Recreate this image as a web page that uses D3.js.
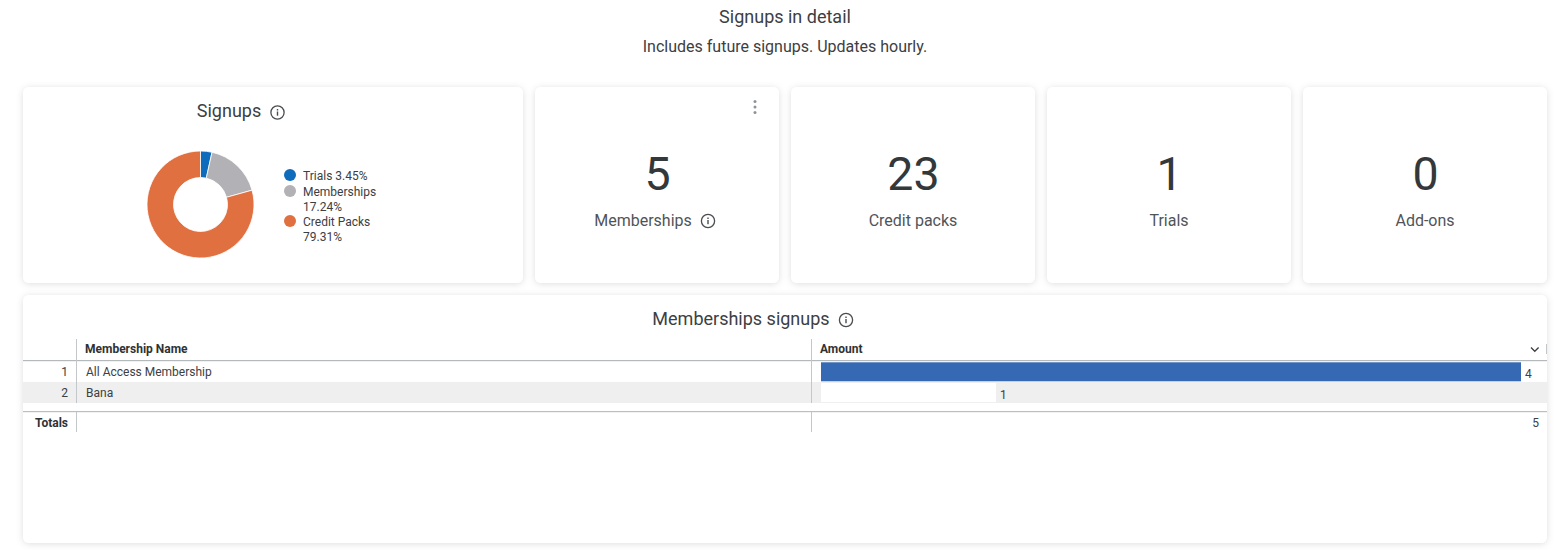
<!DOCTYPE html>
<html><head><meta charset="utf-8">
<script src="https://cdn.jsdelivr.net/npm/d3@7"></script>
<style>
html,body{margin:0;padding:0;background:#fff;overflow:hidden}
svg{display:block}
text{font-family:Roboto,sans-serif;fill:#3c4043}
</style></head><body><div id="c"></div>
<script>
const donutLabels = ["Trials","Memberships","Credit Packs"];
const donutValues = [1,5,23];
const donutPct = ["3.45%","17.24%","79.31%"];
const donutColors = ["#0f6cbd","#b1b1b6","#e07040"];
const kpiValues = ["5","23","1","0"];
const kpiLabels = ["Memberships","Credit packs","Trials","Add-ons"];
const rowNames = ["All Access Membership","Bana"];
const rowAmounts = [4,1];
const totalAmount = 5;

const svg = d3.select("#c").append("svg").attr("width",1554).attr("height",550);
const defs = svg.append("defs");
const f = defs.append("filter").attr("id","sh").attr("x","-5%").attr("y","-5%").attr("width","110%").attr("height","115%");
f.append("feDropShadow").attr("dx",0).attr("dy",1).attr("stdDeviation",3.5).attr("flood-color","#000").attr("flood-opacity",0.13);

function txt(x,y,s,size,anchor,weight,fill){
  return svg.append("text").attr("x",x).attr("y",y).text(s).attr("font-size",size)
    .attr("text-anchor",anchor||"start").attr("font-weight",weight||400).attr("fill",fill||"#3c4043").style("fill",fill||"#3c4043");
}
function card(x,y,w,h){
  svg.append("rect").attr("x",x).attr("y",y).attr("width",w).attr("height",h).attr("rx",6).attr("fill","#fff").attr("filter","url(#sh)");
}
function info(cx,cy){
  const g=svg.append("g").attr("transform",`translate(${cx},${cy})`);
  g.append("circle").attr("r",6.6).attr("fill","none").attr("stroke","#4a4d50").attr("stroke-width",1.3);
  g.append("rect").attr("x",-0.7).attr("y",-1).attr("width",1.4).attr("height",4.2).attr("fill","#4a4d50");
  g.append("rect").attr("x",-0.7).attr("y",-3.5).attr("width",1.4).attr("height",1.5).attr("fill","#4a4d50");
}

txt(785,22.5,"Signups in detail",18,"middle");
txt(785,52,"Includes future signups. Updates hourly.",16,"middle");

// cards
card(23,87,500,196);
const kpiX=[535,791,1047,1303];
kpiX.forEach(x=>card(x,87,244,196));
card(23,295,1524,248);

// donut
txt(229,117,"Signups",18,"middle");
info(277.5,112.5);
const pie=d3.pie().sort(null)(donutValues);
const arc=d3.arc().innerRadius(27).outerRadius(53.5);
const dg=svg.append("g").attr("transform","translate(200.5,204.5)");
dg.selectAll("path").data(pie).join("path").attr("d",arc).attr("fill",(d,i)=>donutColors[i]).attr("stroke","#fff").attr("stroke-width",0.8);

// legend
const legY=[175,191,221];
donutLabels.forEach((l,i)=>{
  svg.append("circle").attr("cx",290).attr("cy",legY[i]).attr("r",6).attr("fill",donutColors[i]);
  if(i===0){ txt(303,179.5,l+" "+donutPct[i],12); }
  else { txt(303,legY[i]+4.5,l,12); txt(303,legY[i]+19.5,donutPct[i],12); }
});

// KPI cards
kpiValues.forEach((v,i)=>{
  txt(kpiX[i]+122.5,189.5,v,46.5,"middle",400,"#33383b");
  const lx = i===0 ? 643 : kpiX[i]+122;
  txt(lx,226,kpiLabels[i],16,"middle",400,"#505458");
});
info(708,221);
[101.5,107,112.5].forEach(y=>svg.append("circle").attr("cx",755).attr("cy",y).attr("r",1.5).attr("fill","#8f9296"));

// table
txt(741,324.5,"Memberships signups",18,"middle");
info(846,320);
const x=d3.scaleLinear().domain([0,4]).range([821,1521]);
const rowY=d3.scaleBand().domain(rowNames).range([361,403]);
const gridC="#c4c7c9";
svg.append("rect").attr("x",23).attr("y",382).attr("width",1524).attr("height",21).attr("fill","#eeefee");
svg.append("rect").attr("x",23).attr("y",360).attr("width",1524).attr("height",1.2).attr("fill","#b4b9bc");
svg.append("rect").attr("x",23).attr("y",411).attr("width",1524).attr("height",1.2).attr("fill","#bcbfc1");
[[339,361],[361,403],[412,432]].forEach(([a,b])=>{
  [76.5,811.5].forEach(px=>svg.append("line").attr("x1",px).attr("x2",px).attr("y1",a).attr("y2",b).attr("stroke",gridC).attr("stroke-width",1));
});
svg.append("line").attr("x1",1546.5).attr("x2",1546.5).attr("y1",344).attr("y2",354).attr("stroke",gridC);
txt(85,353,"Membership Name",12,"start",700,"#2f3235");
txt(820,353,"Amount",12,"start",700,"#2f3235");
svg.append("path").attr("d","M1531,347.5l3.8,3.8l3.8,-3.8").attr("fill","none").attr("stroke","#3c4043").attr("stroke-width",1.3);

rowNames.forEach((n,i)=>{
  const y0=rowY(n);
  const base=y0+15;
  txt(68,base,String(i+1),12,"end");
  txt(86,base,n,12);
  svg.append("rect").attr("x",x(0)).attr("y",y0+1+(i?0:0.3)).attr("width",x(rowAmounts[i])-x(0)).attr("height",19)
    .attr("fill",i===0?"#3569b3":"#ffffff");
  txt(x(rowAmounts[i])+4,base+(i?2:1.5),String(rowAmounts[i]),12);
});
txt(68,427,"Totals",12,"end",700,"#2f3235");
txt(1539,427,String(totalAmount),12,"end");
</script></body></html>
